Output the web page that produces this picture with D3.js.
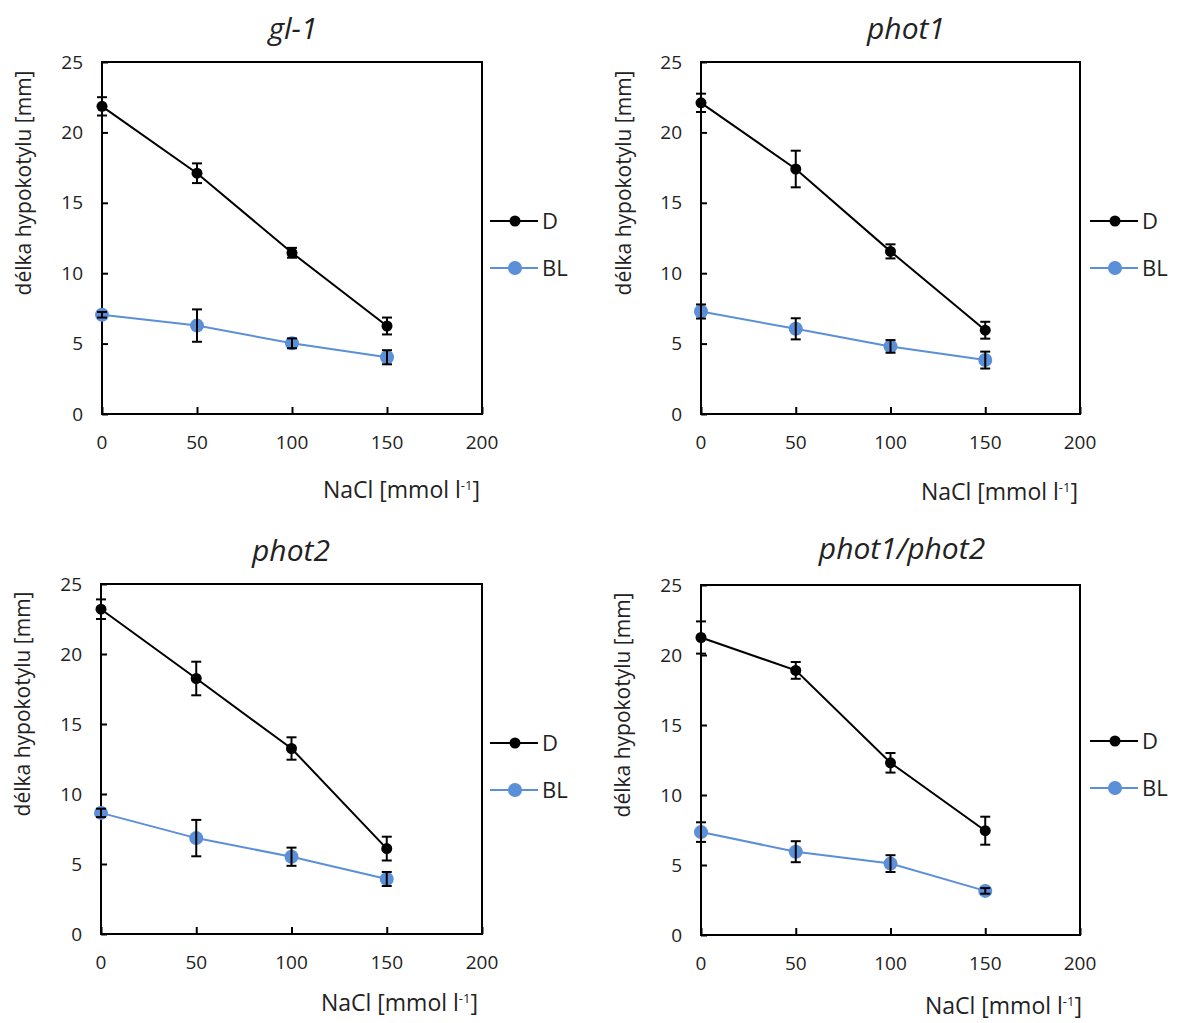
<!DOCTYPE html>
<html>
<head>
<meta charset="utf-8">
<script src="https://cdn.jsdelivr.net/npm/d3@7"></script>
<style>
  body { margin: 0; background: #fff; }
  text { font-family: "Open Sans", "Noto Sans", sans-serif; fill: #222; }
</style>
</head>
<body>
<svg id="chart"></svg>
<script>
// NaCl concentrations (x) and the four lines
var nacl = [0, 50, 100, 150];
var xTicks = [0, 50, 100, 150, 200];
var yTicks = [0, 5, 10, 15, 20, 25];
var titles = ["gl-1", "phot1", "phot2", "phot1/phot2"];
var seriesNames = ["D", "BL"];

// mean hypocotyl length [mm]
var gl1_D = [21.85, 17.1, 11.45, 6.25];
var gl1_BL = [7.05, 6.28, 5.02, 4.03];
var phot1_D = [22.1, 17.4, 11.55, 5.95];
var phot1_BL = [7.28, 6.05, 4.8, 3.83];
var phot2_D = [23.2, 18.25, 13.25, 6.1];
var phot2_BL = [8.65, 6.85, 5.52, 3.93];
var phot12_D = [21.25, 18.9, 12.3, 7.45];
var phot12_BL = [7.35, 5.95, 5.1, 3.15];

// error bars (+/-)
var gl1_Derr = [0.65, 0.7, 0.35, 0.6];
var gl1_BLerr = [0.2, 1.15, 0.35, 0.5];
var phot1_Derr = [0.65, 1.3, 0.5, 0.6];
var phot1_BLerr = [0.5, 0.75, 0.45, 0.6];
var phot2_Derr = [0.7, 1.2, 0.8, 0.85];
var phot2_BLerr = [0.3, 1.3, 0.65, 0.5];
var phot12_Derr = [1.15, 0.6, 0.7, 1.0];
var phot12_BLerr = [0.7, 0.75, 0.6, 0.2];

var width = 1182;
var height = 1023;

var svg = d3.select("svg#chart")
    .attr("width", width)
    .attr("height", height);

var black = "#000";
var blue = "#5B8FD8";

// where each panel sits on the page
var panels = [
  { left: 102, top: 62, w: 380, h: 352, titleX: 293, titleY: 28, yTitleX: 24, xTitleRight: 480, xTitleY: 490, legX: 490, legY: 221,
    D: gl1_D, BL: gl1_BL, Derr: gl1_Derr, BLerr: gl1_BLerr },
  { left: 701, top: 62, w: 379, h: 352, titleX: 906, titleY: 28, yTitleX: 624, xTitleRight: 1078, xTitleY: 492, legX: 1090, legY: 221,
    D: phot1_D, BL: phot1_BL, Derr: phot1_Derr, BLerr: phot1_BLerr },
  { left: 101, top: 584, w: 381, h: 350, titleX: 291, titleY: 550, yTitleX: 23, xTitleRight: 478, xTitleY: 1003, legX: 490, legY: 743,
    D: phot2_D, BL: phot2_BL, Derr: phot2_Derr, BLerr: phot2_BLerr },
  { left: 701, top: 585, w: 379, h: 350, titleX: 902, titleY: 548, yTitleX: 623, xTitleRight: 1082, xTitleY: 1006, legX: 1090, legY: 741,
    D: phot12_D, BL: phot12_BL, Derr: phot12_Derr, BLerr: phot12_BLerr }
];

panels.forEach(function(p, i) {
  var x = d3.scaleLinear().domain([0, 200]).range([p.left, p.left + p.w]);
  var y = d3.scaleLinear().domain([0, 25]).range([p.top + p.h, p.top]);

  var g = svg.append("g");

  // frame
  g.append("rect")
    .attr("x", p.left).attr("y", p.top)
    .attr("width", p.w).attr("height", p.h)
    .attr("fill", "none").attr("stroke", black).attr("stroke-width", 2);

  // y axis, ticks point inward
  var yAxis = g.append("g")
    .attr("transform", "translate(" + p.left + ",0)")
    .call(d3.axisRight(y).tickValues(yTicks).tickSize(6).tickFormat(""));
  yAxis.select(".domain").remove();
  yAxis.selectAll("line").attr("stroke", black).attr("stroke-width", 2);
  g.selectAll(".ylab").data(yTicks).enter().append("text")
    .attr("x", p.left - 19)
    .attr("y", function(d) { return y(d); })
    .attr("dy", "0.35em")
    .attr("text-anchor", "end")
    .style("font-size", "19px")
    .text(function(d) { return d; });

  // x axis, ticks point up
  var xAxis = g.append("g")
    .attr("transform", "translate(0," + (p.top + p.h) + ")")
    .call(d3.axisTop(x).tickValues(xTicks).tickSize(7).tickFormat(""));
  xAxis.select(".domain").remove();
  xAxis.selectAll("line").attr("stroke", black).attr("stroke-width", 2);
  g.selectAll(".xlab").data(xTicks).enter().append("text")
    .attr("x", function(d) { return x(d); })
    .attr("y", p.top + p.h + 28)
    .attr("dy", "0.35em")
    .attr("text-anchor", "middle")
    .style("font-size", "19px")
    .text(function(d) { return d; });

  // titles
  g.append("text")
    .attr("x", p.titleX).attr("y", p.titleY)
    .attr("dy", "0.35em")
    .attr("text-anchor", "middle")
    .style("font-size", "30px")
    .style("font-style", "italic")
    .text(titles[i]);

  g.append("text")
    .attr("transform", "translate(" + p.yTitleX + "," + (p.top + p.h / 2 - 55) + ") rotate(-90)")
    .attr("dy", "0.35em")
    .attr("text-anchor", "middle")
    .style("font-size", "21px")
    .text("délka hypokotylu [mm]");

  var xt = g.append("text")
    .attr("x", p.xTitleRight).attr("y", p.xTitleY)
    .attr("dy", "0.35em")
    .attr("text-anchor", "end")
    .style("font-size", "23px");
  xt.append("tspan").text("NaCl [mmol l");
  xt.append("tspan").attr("dy", "-8").style("font-size", "13px").text("-1");
  xt.append("tspan").attr("dy", "8").text("]");

  // series
  var series = [
    { name: seriesNames[0], vals: p.D, err: p.Derr, color: black, r: 5.5 },
    { name: seriesNames[1], vals: p.BL, err: p.BLerr, color: blue, r: 7 }
  ];

  var line = d3.line()
    .x(function(d, j) { return x(nacl[j]); })
    .y(function(d) { return y(d); });

  series.forEach(function(s, k) {
    g.append("path")
      .datum(s.vals)
      .attr("d", line)
      .attr("fill", "none")
      .attr("stroke", s.color)
      .attr("stroke-width", 2);

    g.selectAll(".pt" + k).data(s.vals).enter().append("circle")
      .attr("cx", function(d, j) { return x(nacl[j]); })
      .attr("cy", function(d) { return y(d); })
      .attr("r", s.r)
      .attr("fill", s.color);

    // error bars on top of the markers
    s.vals.forEach(function(v, j) {
      var cx = x(nacl[j]);
      var y1 = y(v + s.err[j]);
      var y2 = y(v - s.err[j]);
      g.append("line").attr("x1", cx).attr("x2", cx).attr("y1", y1).attr("y2", y2)
        .attr("stroke", black).attr("stroke-width", 2);
      [y1, y2].forEach(function(yy) {
        g.append("line").attr("x1", cx - 5).attr("x2", cx + 5).attr("y1", yy).attr("y2", yy)
          .attr("stroke", black).attr("stroke-width", 2);
      });
    });

    // legend
    var ly = p.legY + k * 47;
    g.append("line")
      .attr("x1", p.legX).attr("x2", p.legX + 48)
      .attr("y1", ly).attr("y2", ly)
      .attr("stroke", s.color).attr("stroke-width", 2);
    g.append("circle")
      .attr("cx", p.legX + 25).attr("cy", ly)
      .attr("r", s.r)
      .attr("fill", s.color);
    g.append("text")
      .attr("x", p.legX + 52).attr("y", ly)
      .attr("dy", "0.35em")
      .style("font-size", "22px")
      .text(s.name);
  });
});
</script>
</body>
</html>
